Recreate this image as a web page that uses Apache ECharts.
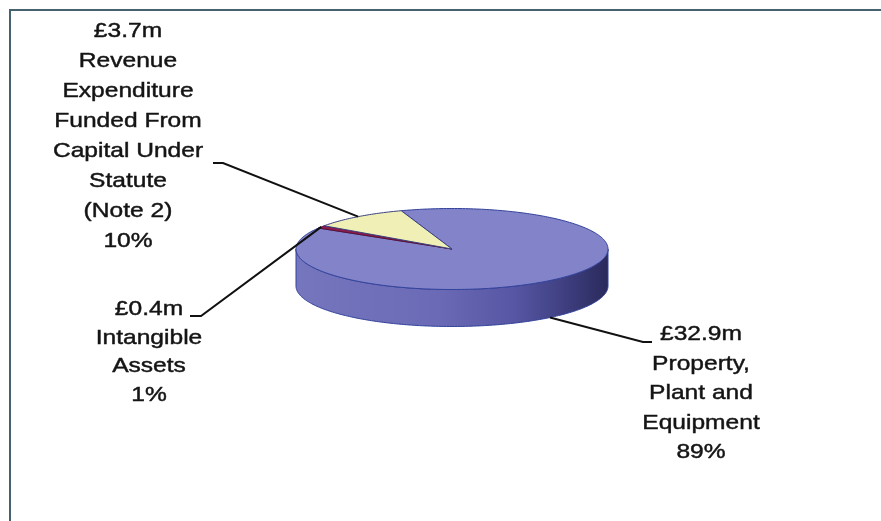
<!DOCTYPE html>
<html><head><meta charset="utf-8">
<script src="https://cdn.jsdelivr.net/npm/echarts@6/dist/echarts.min.js"></script>
<style>html,body{margin:0;padding:0;background:#fff}#c{width:881px;height:521px}</style>
</head><body><div id="c"></div>
<script>
// ---- data ----
const categories = [
  'Property,\nPlant and\nEquipment',
  'Intangible\nAssets',
  'Revenue\nExpenditure\nFunded From\nCapital Under\nStatute\n(Note 2)'
];
const values = [32.9, 0.4, 3.7];          // £m
const topColors = ['#8383c9', '#8b1c4e', '#f0f0b6'];
const edgeColors = ['#32429a', '#5e0f33', '#3c4280'];

// ---- layout (not data) ----
const PIE = {cx: 452, cy: 249, rx: 156, ry: 40.5, depth: 37, start: -19};
const labelLayout = [
  {x: 701, y: 393.5, lh: 29.5, line: [[643, 342], [652, 342]], rim: 'bottom'},
  {x: 149, y: 352,   lh: 28.5, line: [[201, 316], [190, 316]], rim: 'top'},
  {x: 128, y: 136,   lh: 30,   line: [[223, 163], [213, 163]], rim: 'top'}
];

const total = values.reduce((a, b) => a + b, 0);
function sliceAngles(i) {
  let s = PIE.start;
  for (let k = 0; k < i; k++) s += values[k] / total * 360;
  return [s, s + values[i] / total * 360];
}
function rimPt(deg, dy) {
  const r = deg * Math.PI / 180;
  return [PIE.cx + PIE.rx * Math.sin(r), PIE.cy - PIE.ry * Math.cos(r) + (dy || 0)];
}
function arcPts(a, b, dy) {
  const pts = [];
  const n = Math.max(2, Math.ceil(Math.abs(b - a)));
  for (let j = 0; j <= n; j++) pts.push(rimPt(a + (b - a) * j / n, dy));
  return pts;
}

const sideGradient = new echarts.graphic.LinearGradient(
  PIE.cx - PIE.rx, 0, PIE.cx + PIE.rx, 0, [
    {offset: 0, color: '#7676be'},
    {offset: 0.45, color: '#6a6ab6'},
    {offset: 0.7, color: '#5656a4'},
    {offset: 0.88, color: '#3c3c7c'},
    {offset: 1, color: '#2a2a5c'}
  ], true);

function renderSide(params, api) {
  const i = params.dataIndex;
  const [a, b] = sliceAngles(i);
  const children = [];
  for (let k = -1; k <= 2; k++) {
    const lo = Math.max(a, 90 + 360 * k), hi = Math.min(b, 270 + 360 * k);
    if (hi > lo) {
      const pts = arcPts(lo, hi, 0).concat(arcPts(hi, lo, PIE.depth));
      children.push({
        type: 'polygon', shape: {points: pts},
        style: {fill: i === 0 ? sideGradient : topColors[i], stroke: edgeColors[i], lineWidth: 1}
      });
    }
  }
  return {type: 'group', children};
}

function renderTop(params, api) {
  const i = params.dataIndex;
  const [a, b] = sliceAngles(i);
  const pts = [[PIE.cx, PIE.cy]].concat(arcPts(a, b, 0));
  return {
    type: 'polygon', shape: {points: pts},
    style: {fill: topColors[i], stroke: edgeColors[i], lineWidth: 1}
  };
}

function renderLabel(params, api) {
  const i = params.dataIndex;
  const v = api.value(0);
  const [a, b] = sliceAngles(i);
  const L = labelLayout[i];
  const anchor = rimPt((a + b) / 2, L.rim === 'bottom' ? PIE.depth : 0);
  const pts = L.rim === 'bottom' ? [anchor].concat(L.line) : L.line.slice().reverse().concat([anchor]);
  const text = '£' + v.toFixed(1) + 'm\n' + categories[i] + '\n' + Math.round(v / total * 100) + '%';
  return {
    type: 'group', children: [
      {type: 'polyline', shape: {points: pts}, style: {stroke: '#111', lineWidth: 2, fill: null}},
      {type: 'text', x: L.x, y: L.y, scaleX: 1.17,
       style: {text: text, fontSize: 21, fontFamily: 'Liberation Sans, Arial, sans-serif',
               fill: '#141414', stroke: '#141414', lineWidth: 0.45,
               align: 'center', verticalAlign: 'middle', lineHeight: L.lh}}
    ]
  };
}

const chart = echarts.init(document.getElementById('c'), null, {renderer: 'canvas'});
const seriesData = values.map((v, i) => [v, i]);
chart.setOption({
  animation: false,
  backgroundColor: '#ffffff',
  graphic: [{type: 'rect', silent: true, z: 0,
    shape: {x: 10, y: 10, width: 900, height: 600},
    style: {fill: 'none', stroke: '#46626e', lineWidth: 2}}],
  series: [
    {type: 'custom', name: 'side', coordinateSystem: 'none', data: seriesData, renderItem: renderSide, z: 1, silent: true},
    {type: 'custom', name: 'top', coordinateSystem: 'none', data: seriesData, renderItem: renderTop, z: 2, silent: true},
    {type: 'custom', name: 'labels', coordinateSystem: 'none', data: seriesData, renderItem: renderLabel, z: 3, silent: true}
  ]
});
</script></body></html>
